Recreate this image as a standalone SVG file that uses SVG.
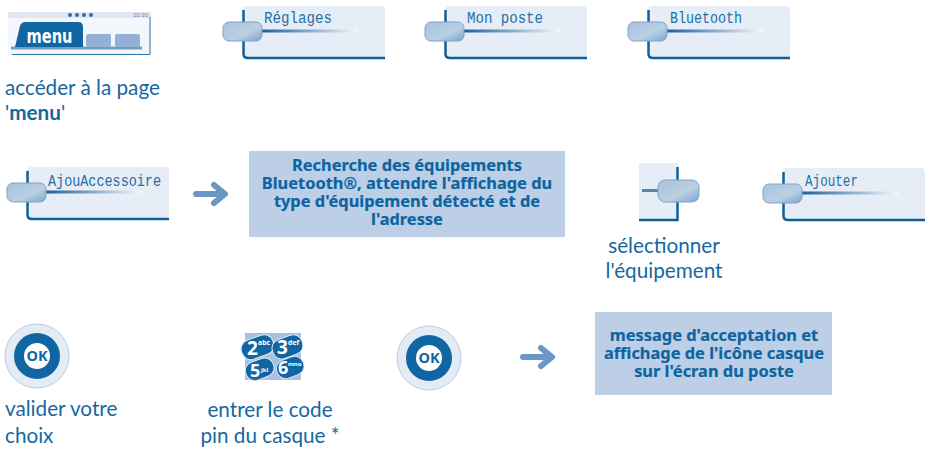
<svg xmlns="http://www.w3.org/2000/svg" xmlns:xlink="http://www.w3.org/1999/xlink" width="929" height="451" viewBox="0 0 929 451">
<style>
.t{font-family:"Lato","Noto Sans",sans-serif;font-size:20.700px;fill:#15689f}
.m{text-anchor:middle}
.b{font-family:"Noto Sans","DejaVu Sans",sans-serif;font-weight:700;font-size:16.400px;fill:#0d64a0;text-anchor:middle;stroke:#0d64a0;stroke-width:0.200px}
.k{font-family:"Liberation Mono",monospace;font-size:16px;fill:#1e70a5}
.box{fill:#bccfe6}
.arr{fill:none;stroke:#6b97c5;stroke-width:6;stroke-linecap:round;stroke-linejoin:round}
</style>
<defs>
<linearGradient id="kb" x1="0" y1="0" x2="1" y2="1"><stop offset="0" stop-color="#a9c2dc"/><stop offset="0.6" stop-color="#b9d0e4"/><stop offset="1" stop-color="#7ba3c8"/></linearGradient>
<linearGradient id="ln"><stop offset="0" stop-color="#1a5f98"/><stop offset="0.85" stop-color="#d5e0ee"/><stop offset="1" stop-color="#f4f7fc"/></linearGradient>
<g id="soft">
<rect x="20" y="-16" width="142" height="52" rx="4" fill="#e6edf7"/>
<path d="M20.500 -12V32Q20.500 36 25 36H162" fill="none" stroke="#0f5f98" stroke-width="2.500"/>
<rect x="38" y="7.500" width="97" height="3" fill="url(#ln)"/>
<rect x="0" y="0" width="39" height="19" rx="6" fill="url(#kb)" stroke="#7fa3c4" stroke-width="1"/>
</g>
<g id="ok">
<circle r="32" fill="#e3ebf5" stroke="#b9cde2" stroke-width="1"/>
<circle r="18" fill="#fff" stroke="#0f66a3" stroke-width="10"/>
<text y="5" text-anchor="middle" font-family="Noto Sans,sans-serif" font-weight="700" font-size="14.500" fill="#0f66a3">OK</text>
</g>
<path id="ar" class="arr" d="M3 12H31M21 3L32 12L21 21"/>
</defs>
<g id="connectors"><use xlink:href="#ar" x="193" y="182"/><use xlink:href="#ar" x="520" y="345"/></g>
<g id="menu">
<rect x="8" y="12" width="143" height="42" fill="#f3f6fb"/><rect x="8" y="12" width="143" height="6" fill="#dfe7f3"/>
<path d="M150 17V54.500H12" fill="none" stroke="#2a73a8" stroke-width="1"/>
<path d="M11 48H142" stroke="#6f9dc6" stroke-width="3"/>
<path d="M15 47L20 26Q21 22 26 22H78Q83 22 83 27V47Z" fill="#0f66a3"/>
<rect x="86" y="34" width="25" height="13" rx="2" fill="#94b0d6"/><rect x="115" y="34" width="25" height="13" rx="2" fill="#94b0d6"/>
<text x="49.500" y="43" text-anchor="middle" font-family="DejaVu Sans,sans-serif" font-weight="700" font-size="19" textLength="46" lengthAdjust="spacingAndGlyphs" fill="#fff">menu</text>
<text x="133" y="17" font-family="Liberation Sans,sans-serif" font-size="6" fill="#5c86ad">10:30</text>
<g fill="#2a6d9f"><circle cx="70" cy="15" r="2"/><circle cx="77" cy="15" r="2"/><circle cx="84" cy="15" r="2"/><circle cx="91" cy="15" r="2"/></g>
<text class="t" x="5" y="95">accéder à la page</text>
<text class="t" x="5" y="120">'<tspan font-weight="700">menu</tspan>'</text>
</g>
<g id="reglages"><use xlink:href="#soft" x="223" y="22"/><text class="k" x="264" y="23" textLength="68" lengthAdjust="spacingAndGlyphs">Réglages</text></g>
<g id="monposte"><use xlink:href="#soft" x="425" y="22"/><text class="k" x="467" y="23" textLength="76" lengthAdjust="spacingAndGlyphs">Mon poste</text></g>
<g id="bluetooth"><use xlink:href="#soft" x="628" y="22"/><text class="k" x="670" y="23" textLength="72" lengthAdjust="spacingAndGlyphs">Bluetooth</text></g>
<g id="ajouaccessoire"><use xlink:href="#soft" x="7" y="183"/><text class="k" x="48" y="186" textLength="113" lengthAdjust="spacingAndGlyphs">AjouAccessoire</text></g>
<g id="recherche"><rect class="box" x="249" y="151" width="316" height="86"/>
<text class="b" x="407" y="171">Recherche des équipements</text>
<text class="b" x="407" y="189">Bluetooth®, attendre l'affichage du</text>
<text class="b" x="407" y="207">type d'équipement détecté et de</text>
<text class="b" x="407" y="225">l'adresse</text></g>
<g id="selection">
<rect x="639" y="163" width="39" height="58" fill="#e6edf7"/>
<path d="M677.500 167V220H639" fill="none" stroke="#0f5f98" stroke-width="2.500"/>
<rect x="642" y="189" width="18" height="3" fill="#4e86b4"/>
<rect x="658" y="180" width="41" height="22" rx="7" fill="url(#kb)" stroke="#7fa3c4"/>
<text class="t m" x="664" y="253">sélectionner</text><text class="t m" x="664" y="278">l'équipement</text></g>
<g id="ajouter"><use xlink:href="#soft" x="763" y="184"/><text class="k" x="805" y="186" textLength="53" lengthAdjust="spacingAndGlyphs">Ajouter</text></g>
<g id="ok1"><use xlink:href="#ok" x="37" y="356"/><text class="t" x="5" y="416">valider votre</text><text class="t" x="5" y="443">choix</text></g>
<g id="pad">
<rect x="245" y="333" width="56" height="47" fill="#a9c0e0"/>
<g fill="#0f66a3" stroke="#dfe8f3" stroke-width="1"><rect x="241" y="337" width="33" height="20" rx="9" transform="rotate(-20 258 347)"/><rect x="272" y="337" width="31" height="20" rx="9" transform="rotate(-20 287 347)"/><rect x="245" y="360" width="29" height="19" rx="9" transform="rotate(-20 259 369)"/><rect x="276" y="358" width="28" height="19" rx="9" transform="rotate(-20 290 367)"/></g>
<g font-family="Noto Sans,sans-serif" font-weight="700" fill="#fff"><text x="247" y="355" font-size="19">2</text><text x="258" y="345" font-size="7">abc</text><text x="277" y="354" font-size="19">3</text><text x="288" y="345" font-size="7">def</text><text x="250" y="377" font-size="18">5</text><text x="261" y="372" font-size="6">jkl</text><text x="278" y="374" font-size="18">6</text><text x="288" y="366" font-size="6">mno</text></g>
<text class="t m" x="270" y="417">entrer le code</text><text class="t m" x="270" y="443">pin du casque *</text></g>
<g id="ok2"><use xlink:href="#ok" x="429" y="358"/></g>
<g id="message"><rect class="box" x="595" y="312" width="237" height="83"/>
<text class="b" x="714" y="341">message d'acceptation et</text>
<text class="b" x="714" y="359">affichage de l'icône casque</text>
<text class="b" x="714" y="377">sur l'écran du poste</text></g>
</svg>
